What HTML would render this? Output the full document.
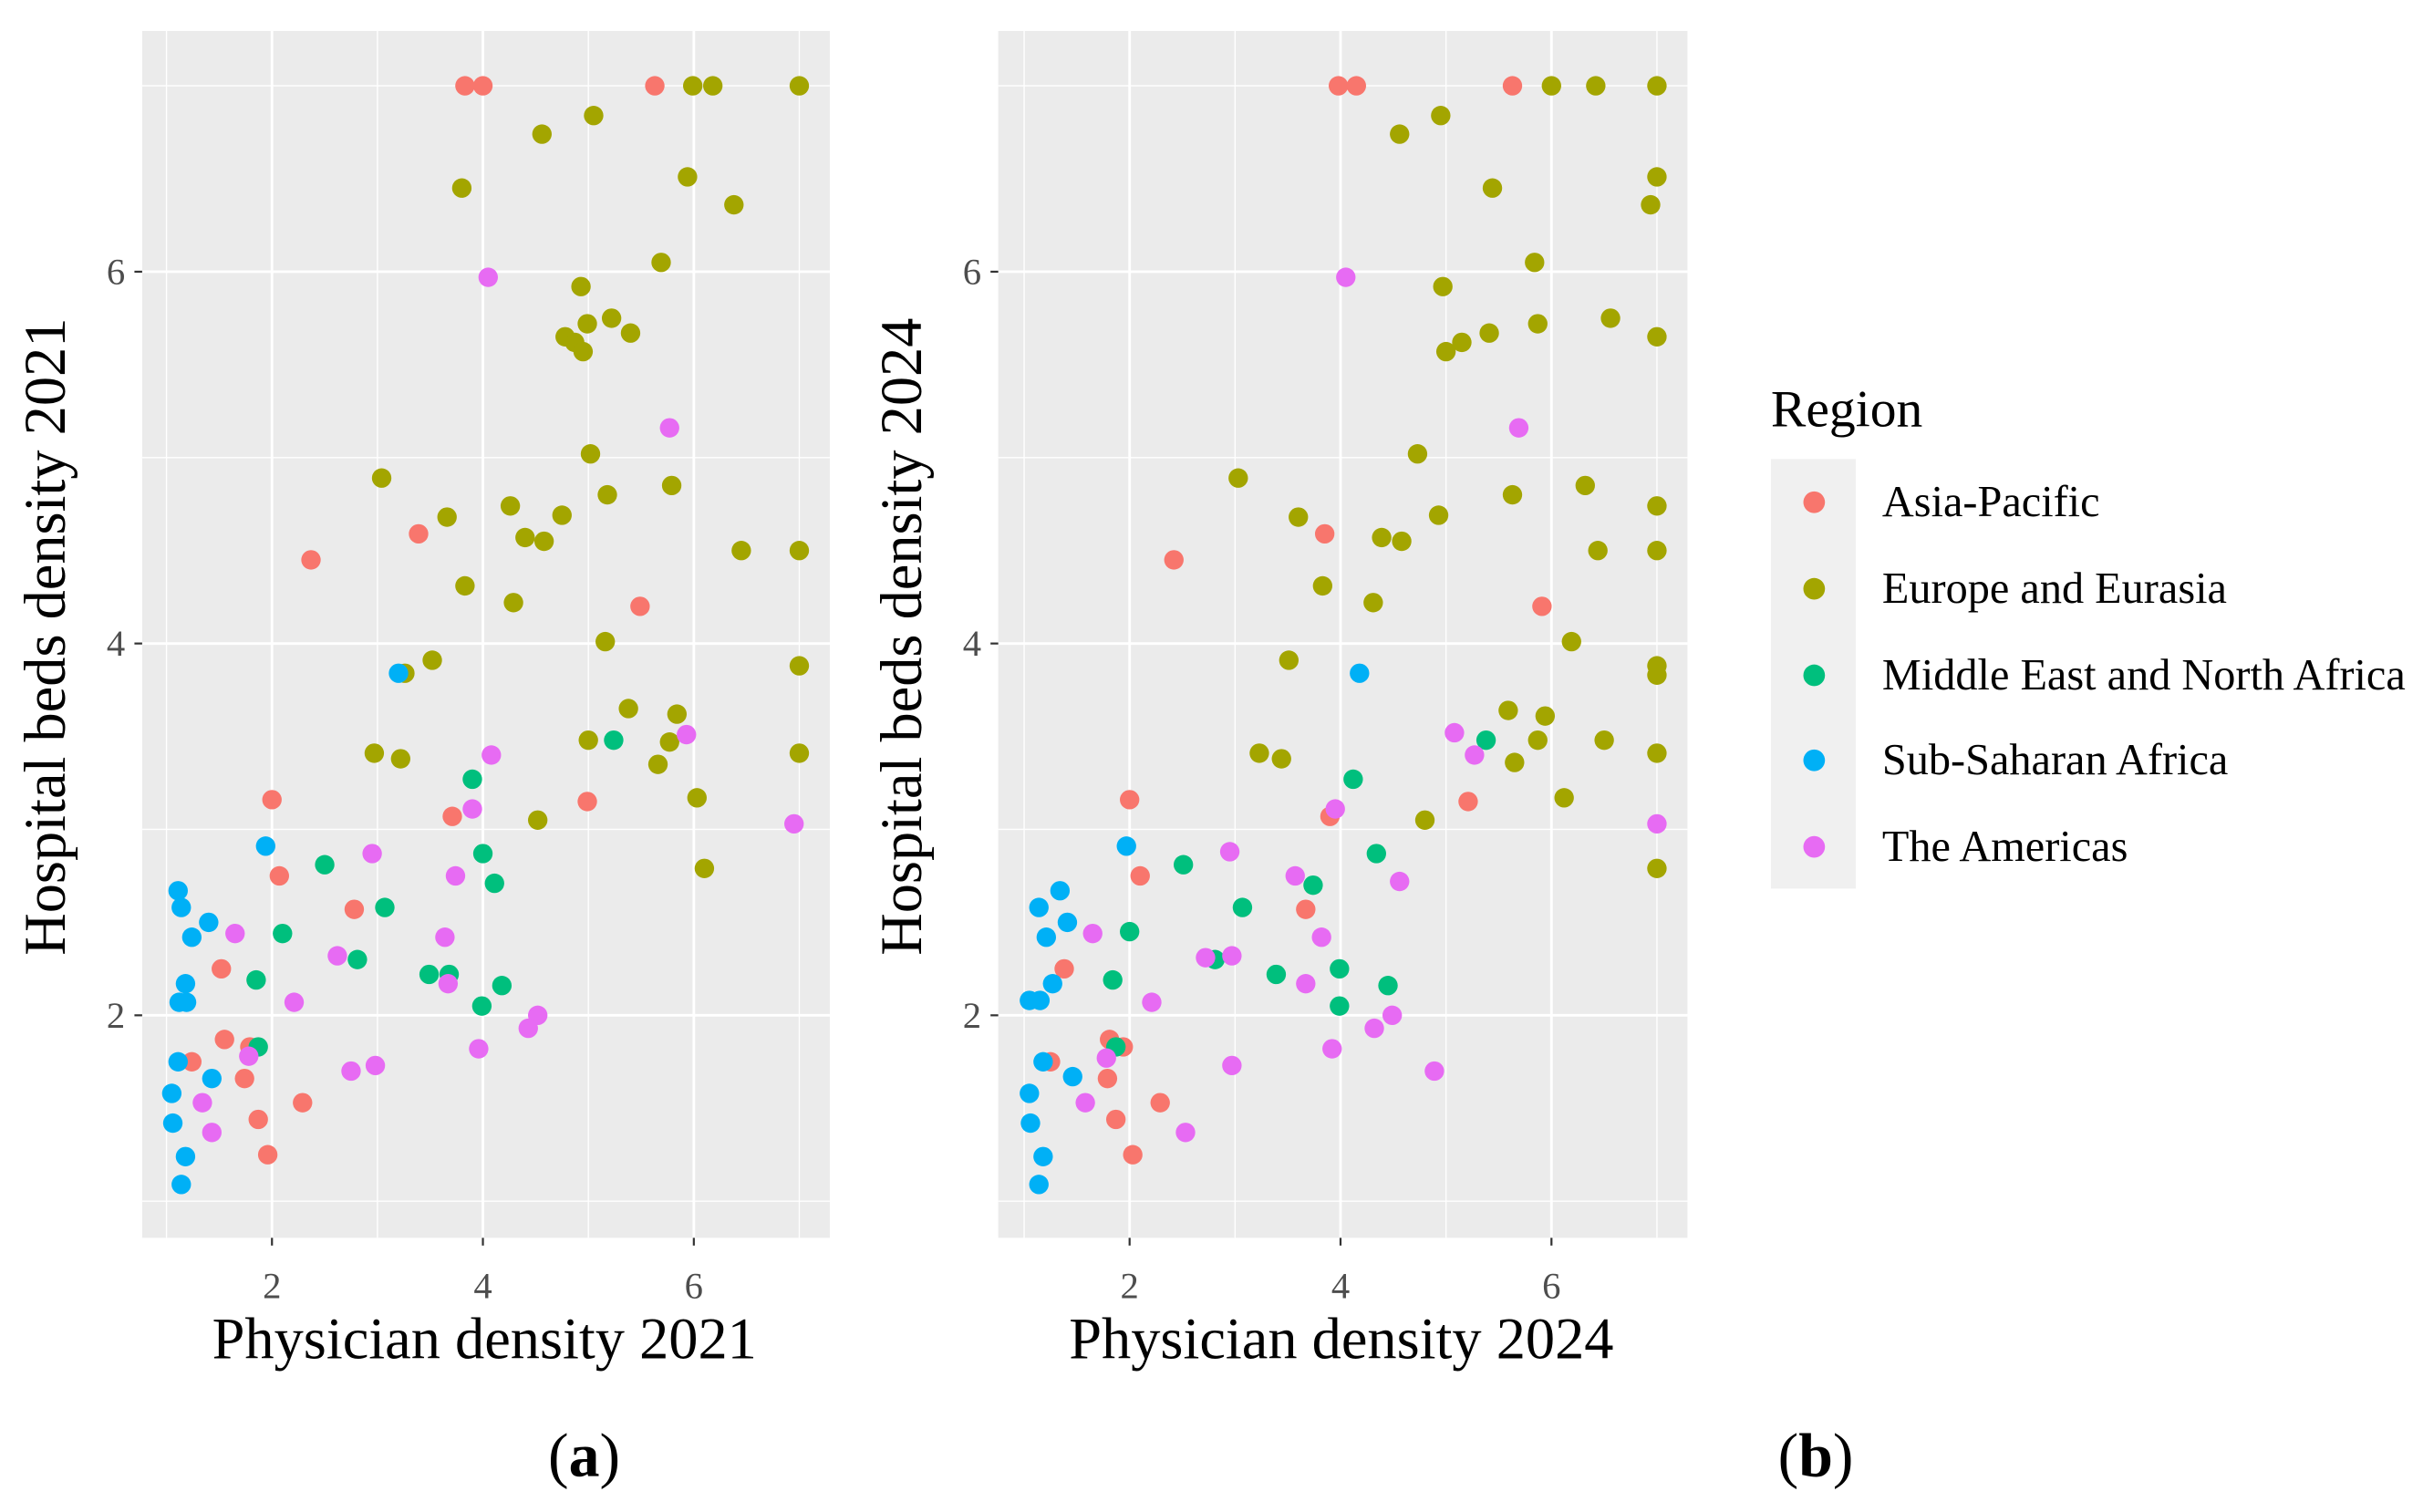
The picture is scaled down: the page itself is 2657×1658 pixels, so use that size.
<!DOCTYPE html>
<html><head><meta charset="utf-8"><style>
html,body{margin:0;padding:0;background:#fff;}
svg{display:block;font-family:"Liberation Serif",serif;}
</style></head><body>
<svg id="fig" width="2657" height="1658" viewBox="0 0 1568 978.4" xmlns="http://www.w3.org/2000/svg"></svg>
<script>
// ---- data: panel a (2021) ----
const regions = ["Asia-Pacific","Europe and Eurasia","Middle East and North Africa","Sub-Saharan Africa","The Americas"];
const colors = ["#F8766D","#A3A500","#00BF7D","#00B0F6","#E76BF3"];
const xTicks = [2,4,6];
const yTicks = [2,4,6];
const apX21 = [3.83,4.0,5.63,2.37,3.39,5.49,2.0,2.07,3.71,2.78,1.52,1.55,1.24,1.79,1.74,1.87,1.96,2.29,4.99];
const apY21 = [7.0,7.0,7.0,4.45,4.59,4.20,3.16,2.75,3.07,2.57,2.25,1.87,1.75,1.83,1.66,1.44,1.25,1.53,3.15];
const euX21 = [5.99,6.18,7.0,5.05,4.56,3.80,5.94,6.38,5.69,4.93,4.78,4.87,4.95,4.99,5.22,5.40,3.04,3.66,4.26,4.75,4.40,4.58,3.83,4.29,5.79,5.18,5.02,6.45,7.0,5.16,3.26,3.52,5.38,5.84,5.0,5.66,5.77,2.97,3.22,4.52,6.03,7.0,7.0,6.10];
const euY21 = [7.0,7.0,7.0,6.84,6.74,6.45,6.51,6.36,6.05,5.92,5.65,5.62,5.57,5.72,5.75,5.67,4.89,4.68,4.74,4.69,4.57,4.55,4.31,4.22,4.85,4.80,5.02,4.50,4.50,4.01,3.84,3.91,3.65,3.62,3.48,3.35,3.47,3.41,3.38,3.05,3.17,3.88,3.41,2.79];
const meX21 = [2.50,2.10,1.85,1.87,2.81,3.07,3.49,3.68,3.90,4.0,4.11,3.99,4.18,5.24];
const meY21 = [2.81,2.44,2.19,1.83,2.30,2.58,2.22,2.22,3.27,2.87,2.71,2.05,2.16,3.48];
const ssX21 = [1.11,1.14,1.24,1.18,1.12,1.19,1.40,1.43,1.11,1.05,1.06,1.18,1.14,1.94,3.20];
const ssY21 = [2.67,2.58,2.42,2.17,2.07,2.07,2.50,1.66,1.75,1.58,1.42,1.24,1.09,2.91,3.84];
const amX21 = [4.05,5.77,5.93,4.08,3.90,3.74,2.95,1.65,2.62,3.64,3.67,2.21,3.96,4.52,4.43,2.98,2.75,6.95,1.78,1.34,1.43];
const amY21 = [5.97,5.16,3.51,3.40,3.11,2.75,2.87,2.44,2.32,2.42,2.17,2.07,1.82,2.0,1.93,1.73,1.70,3.03,1.78,1.53,1.37];
// ---- data: panel b (2024) ----
const apX24 = [3.98,4.15,5.63,2.42,3.85,5.91,2.0,2.10,3.90,3.67,1.38,1.25,1.81,1.94,1.79,1.87,2.03,2.29,5.21];
const apY24 = [7.0,7.0,7.0,4.45,4.59,4.20,3.16,2.75,3.07,2.57,2.25,1.75,1.87,1.83,1.66,1.44,1.25,1.53,3.15];
const euX24 = [6.0,6.42,7.0,4.95,4.56,7.0,6.94,5.44,5.84,4.97,7.0,5.0,5.15,5.41,5.87,6.56,3.03,3.60,6.32,5.63,4.73,4.93,4.39,4.58,3.83,4.31,6.44,7.0,7.0,6.19,3.51,7.0,7.0,5.59,5.94,5.87,6.50,5.65,3.23,3.44,7.0,4.80,6.12,7.0];
const euY24 = [7.0,7.0,7.0,6.84,6.74,6.51,6.36,6.45,6.05,5.92,5.65,5.57,5.62,5.67,5.72,5.75,4.89,4.68,4.85,4.80,5.02,4.69,4.57,4.55,4.31,4.22,4.50,4.74,4.50,4.01,3.91,3.88,3.83,3.64,3.61,3.48,3.48,3.36,3.41,3.38,3.41,3.05,3.17,2.79];
const meX24 = [2.51,2.0,1.84,1.87,2.81,3.07,3.39,3.74,4.12,4.34,3.99,3.99,4.45,5.38];
const meY24 = [2.81,2.45,2.19,1.83,2.30,2.58,2.22,2.70,3.27,2.87,2.25,2.05,2.16,3.48];
const ssX24 = [1.34,1.14,1.41,1.21,1.27,1.05,1.15,1.18,1.46,1.05,1.06,1.18,1.14,1.97,4.18];
const ssY24 = [2.67,2.58,2.50,2.42,2.17,2.08,2.08,1.75,1.67,1.58,1.42,1.24,1.09,2.91,3.84];
const amX24 = [4.05,5.69,5.08,5.27,3.95,3.57,4.56,2.95,1.65,2.72,2.97,3.82,3.67,2.21,4.49,4.32,3.92,2.97,4.89,7.0,1.78,1.58,2.53];
const amY24 = [5.97,5.16,3.52,3.40,3.11,2.75,2.72,2.88,2.44,2.31,2.32,2.42,2.17,2.07,2.0,1.93,1.82,1.73,1.70,3.03,1.77,1.53,1.37];

const NS = "http://www.w3.org/2000/svg";
const svg = document.getElementById("fig");
function mk(tag, attrs, parent, text){
  const e = document.createElementNS(NS, tag);
  for (const k in attrs) e.setAttribute(k, attrs[k]);
  if (text !== undefined) e.textContent = text;
  (parent || svg).appendChild(e);
  return e;
}
const yTop = 20, yBot = 801;
function yScale(v){ return 657 - (v - 2) * 120.3; }

function panel(id, left, right, x2px, xsets, ysets, xTitle, yTitle, label, labelX){
  const xScale = v => x2px + (v - 2) * 68.25;
  const g = mk("g", {});
  
  
  const bg = mk("rect", {x:left, y:yTop, width:right-left, height:yBot-yTop, fill:"#EBEBEB"}, g);
  
  
  [1,3,5,7].forEach(v => {
    const x = xScale(v);
    if (x > left && x < right) mk("line", {x1:x, x2:x, y1:yTop, y2:yBot, stroke:"#fff", "stroke-width":0.8}, g);
    const y = yScale(v);
    if (y > yTop && y < yBot) mk("line", {x1:left, x2:right, y1:y, y2:y, stroke:"#fff", "stroke-width":0.8}, g);
  });
  xTicks.forEach(v => {
    const x = xScale(v);
    mk("line", {x1:x, x2:x, y1:yTop, y2:yBot, stroke:"#fff", "stroke-width":1.7}, g);
    mk("line", {x1:x, x2:x, y1:yBot, y2:yBot+5, stroke:"#333", "stroke-width":1.3}, g);
    const t = mk("text", {x:x, y:yBot+39, "text-anchor":"middle", "font-size":24, fill:"#4d4d4d"}, g, String(v));
    
    
  });
  yTicks.forEach(v => {
    const y = yScale(v);
    mk("line", {x1:left, x2:right, y1:y, y2:y, stroke:"#fff", "stroke-width":1.7}, g);
    mk("line", {x1:left-5, x2:left, y1:y, y2:y, stroke:"#333", "stroke-width":1.3}, g);
    const t = mk("text", {x:left-11, y:y+8, "text-anchor":"end", "font-size":24, fill:"#4d4d4d"}, g, String(v));
    
    
  });
  for (let r = 0; r < 5; r++){
    const xs = xsets[r], ys = ysets[r];
    for (let i = 0; i < xs.length; i++){
      const c = mk("circle", {cx:xScale(xs[i]), cy:yScale(ys[i]), r:6.3, fill:colors[r]}, g);
      
      
    }
  }
  const mid = (left + right) / 2;
  const xt = mk("text", {x:mid-1, y:879, "text-anchor":"middle", "font-size":38, fill:"#000"}, g, xTitle);
  
  
  const cx = left - 50, cy = 412;
  const yt = mk("text", {x:cx, y:cy, "text-anchor":"middle", "font-size":38, fill:"#000", transform:`rotate(-90 ${cx} ${cy})`}, g, yTitle);
  
  
  const lb = mk("text", {x:labelX, y:955, "text-anchor":"middle", "font-size":40, fill:"#000"}, g);
  
  
  mk("tspan", {}, lb, "(");
  mk("tspan", {"font-weight":"bold"}, lb, label);
  mk("tspan", {}, lb, ")");
}

panel("a", 92, 537, 176, [apX21,euX21,meX21,ssX21,amX21], [apY21,euY21,meY21,ssY21,amY21], "Physician density 2021", "Hospital beds density 2021", "a", 378);
panel("b", 646, 1092, 731, [apX24,euX24,meX24,ssX24,amX24], [apY24,euY24,meY24,ssY24,amY24], "Physician density 2024", "Hospital beds density 2024", "b", 1175);

const lg = mk("g", {});


const lt = mk("text", {x:1146, y:276, "font-size":34, fill:"#000"}, lg, "Region");


mk("rect", {x:1146, y:297, width:55, height:278, fill:"#F0F0F0"}, lg);
const ly = [325,381,437,492,548];
regions.forEach((name, i) => {
  const e = mk("g", {}, lg);
  
  
  mk("circle", {cx:1174, cy:ly[i], r:7, fill:colors[i]}, e);
  mk("text", {x:1218, y:ly[i]+9, "font-size":28.5, fill:"#000"}, e, name);
});
</script>
</body></html>
